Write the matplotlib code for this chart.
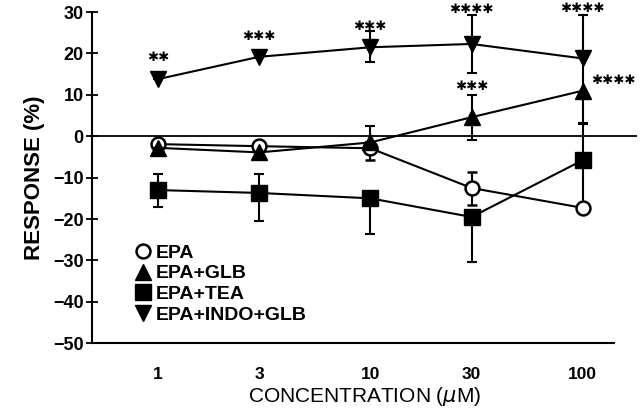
import numpy as np
import matplotlib.pyplot as plt
from matplotlib.lines import Line2D

plt.rcParams['font.family'] = ['Liberation Sans', 'DejaVu Sans']

# concentrations (uM)
conc = [1, 3, 10, 30, 100]

# mean responses (%)
epa = [-1.9, -2.4, -2.9, -12.5, -17.3]
epa_glb = [-2.8, -3.9, -1.5, 4.6, 11.0]
epa_tea = [-13.0, -13.7, -15.0, -19.5, -5.8]
epa_indo_glb = [13.8, 19.2, 21.5, 22.3, 18.8]

# error bars (lower, upper)
epa_err = [[0.5, 0.5, 2.8, 4.0, 0.8], [0.5, 0.5, 0.8, 3.8, 0.8]]
epa_glb_err = [[0.0, 0.0, 0.0, 5.5, 8.0], [0.0, 0.0, 4.0, 5.3, 8.0]]
epa_tea_err = [[4.0, 6.8, 8.6, 11.0, 11.0], [4.0, 4.6, 0.0, 0.0, 9.0]]
epa_indo_glb_err = [[0.0, 0.0, 3.5, 7.0, 0.0], [0.0, 0.0, 4.0, 7.0, 10.5]]

# significance marks: (x, y, number of stars)
stars = [(1, 19.0, 2), (3, 24.2, 3), (10, 26.5, 3),
         (30, 30.6, 4), (100, 30.8, 4), (30, 12.0, 3)]

tick_vals = [-50, -40, -30, -20, -10, 0, 10, 20, 30]
labels = ['EPA', 'EPA+GLB', 'EPA+TEA', 'EPA+INDO+GLB']

fig = plt.figure(figsize=(6.4, 4.17), dpi=100)
ax = fig.add_axes([0.144, 0.177, 0.851, 0.794])
ax.set_xscale('log')
ax.set_xlim(0.49, 180)
ax.set_ylim(-50, 30)

ax.axhline(0, color='black', lw=1.3, zorder=1)

common = dict(color='black', lw=1.5, capsize=3.5, capthick=1.5, elinewidth=1.5)
ax.errorbar(conc, epa, yerr=epa_err, fmt='-o', ms=10, mfc='white', mec='black',
            mew=1.8, zorder=3, **common)
ax.errorbar(conc, epa_glb, yerr=epa_glb_err, fmt='-^', ms=11, mfc='black', mec='black',
            zorder=4, **common)
ax.errorbar(conc, epa_tea, yerr=epa_tea_err, fmt='-s', ms=11, mfc='black', mec='black',
            zorder=3, **common)
ax.errorbar(conc, epa_indo_glb, yerr=epa_indo_glb_err, fmt='-v', ms=12, mfc='black',
            mec='black', zorder=3, **common)

for x, y, n in stars:
    ax.text(x, y, '\u2731' * n, ha='center', va='center', fontsize=9.5,
            family=['DejaVu Sans'], clip_on=False)
ax.text(110, 13.5, '\u2731' * 4, ha='left', va='center', fontsize=9.5,
        family=['DejaVu Sans'], clip_on=False)

ax.set_xticks(conc)
ax.set_xticklabels(['1', '3', '10', '30', '100'], fontsize=12.5, fontweight='bold')
ax.minorticks_off()
ax.tick_params(axis='x', length=0, pad=17)
ax.set_yticks(tick_vals)
ax.set_yticklabels([str(v).replace('-', '\u2212') for v in tick_vals],
                   fontsize=13, fontweight='bold')
ax.tick_params(axis='y', direction='inout', length=8, width=1.3, pad=2)

ax.spines['top'].set_visible(False)
ax.spines['right'].set_visible(False)
ax.spines['left'].set_linewidth(1.5)
ax.spines['bottom'].set_linewidth(1.5)
ax.spines['bottom'].set_bounds(0.49, 140)

ax.set_ylabel('RESPONSE (%)', fontsize=16, fontweight='bold', labelpad=6)
ax.set_xlabel('CONCENTRATION ($\\mu$M)', fontsize=15, labelpad=2)

handles = [
    Line2D([], [], ls='none', marker='o', ms=10, mfc='white', mec='black', mew=1.8),
    Line2D([], [], ls='none', marker='^', ms=11, mfc='black', mec='black'),
    Line2D([], [], ls='none', marker='s', ms=11, mfc='black', mec='black'),
    Line2D([], [], ls='none', marker='v', ms=11, mfc='black', mec='black'),
]
ax.legend(handles, labels, loc='lower left', bbox_to_anchor=(0.06, 0.03), frameon=False,
          handlelength=0.9, handletextpad=0.2, labelspacing=0.15,
          borderpad=0, prop={'size': 14, 'weight': 'bold'})

fig.savefig('out.png', dpi=100)
